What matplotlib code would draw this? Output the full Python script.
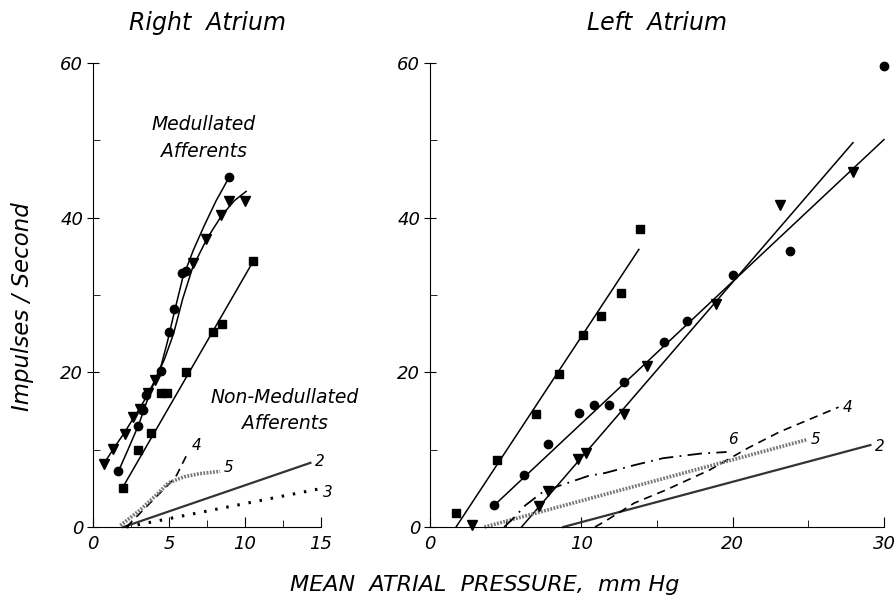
import matplotlib.pyplot as plt
from matplotlib.ticker import MultipleLocator

plt.rcParams['font.family'] = ['DejaVu Sans']
plt.rcParams['font.style'] = 'italic'

# ---- Right atrium: medullated afferents (points) ----
ra_circle_x = [1.67, 2.98, 3.27, 3.5, 4.5, 5.0, 5.35, 5.83, 6.1, 8.95]
ra_circle_y = [7.2, 13.1, 15.1, 17.1, 20.2, 25.2, 28.2, 32.9, 33.1, 45.2]
ra_tri_x = [0.72, 1.34, 2.1, 2.6, 3.1, 3.64, 4.08, 6.56, 7.4, 8.4, 8.95, 10.0]
ra_tri_y = [8.2, 10.1, 12.0, 14.2, 15.2, 17.3, 19.0, 34.2, 37.3, 40.3, 42.1, 42.2]
ra_sq_x = [1.95, 2.94, 3.82, 4.47, 4.9, 6.1, 7.9, 8.5, 10.55]
ra_sq_y = [5.1, 9.9, 12.1, 17.3, 17.3, 20.1, 25.2, 26.3, 34.4]

# hand drawn curves through them
ra_circle_curve_x = [1.67, 2.3, 3.0, 3.5, 4.0, 4.5, 4.9, 5.35, 5.9, 6.6, 7.3, 8.1, 8.95]
ra_circle_curve_y = [7.2, 10.0, 13.2, 16.0, 18.6, 21.0, 24.0, 27.8, 32.2, 35.8, 38.9, 42.2, 45.2]
ra_tri_curve_x = [0.72, 1.34, 2.1, 2.6, 3.1, 3.64, 4.08, 4.7, 5.3, 5.9, 6.56, 7.5, 8.47, 9.3, 10.07]
ra_tri_curve_y = [8.2, 10.1, 12.3, 13.9, 15.4, 17.3, 19.0, 21.7, 25.0, 29.5, 33.6, 37.3, 40.3, 42.2, 43.4]
ra_sq_line_x = [1.95, 10.55]
ra_sq_line_y = [5.1, 34.4]

# ---- Right atrium: non-medullated afferents (lines) ----
ra_n2_x = [2.0, 14.3]
ra_n2_y = [0.0, 8.3]
ra_n3_x = [2.2, 14.8]
ra_n3_y = [0.0, 4.9]
ra_n4_x = [2.2, 3.1, 3.75, 5.07, 5.5, 6.16]
ra_n4_y = [0.0, 1.8, 3.1, 5.7, 6.7, 9.3]
ra_n5_x = [1.8, 3.1, 4.3, 4.95, 6.0, 7.0, 8.36]
ra_n5_y = [0.2, 2.2, 4.4, 5.7, 6.5, 6.9, 7.2]

# ---- Left atrium: medullated afferents (points) ----
la_sq_x = [1.72, 4.4, 7.0, 8.5, 10.1, 11.3, 12.6, 13.9]
la_sq_y = [1.8, 8.7, 14.6, 19.8, 24.8, 27.3, 30.2, 38.5]
la_circle_x = [4.24, 6.22, 7.8, 9.83, 10.85, 11.83, 12.85, 15.45, 16.95, 20.0, 23.8, 30.0]
la_circle_y = [2.8, 6.7, 10.75, 14.8, 15.8, 15.8, 18.7, 23.9, 26.7, 32.6, 35.7, 59.6]
la_tri_x = [2.75, 7.2, 7.8, 9.75, 10.3, 12.85, 14.35, 18.9, 23.1, 27.95]
la_tri_y = [0.3, 2.7, 4.7, 8.8, 9.6, 14.6, 20.8, 28.8, 41.7, 45.9]

la_sq_line_x = [1.72, 13.8]
la_sq_line_y = [0.0, 35.9]
la_circle_line_x = [4.24, 30.0]
la_circle_line_y = [2.8, 50.1]
la_tri_line_x = [6.05, 27.95]
la_tri_line_y = [0.0, 49.7]

# ---- Left atrium: non-medullated afferents (lines) ----
la_n2_x = [8.8, 29.1]
la_n2_y = [0.0, 10.6]
la_n4_x = [10.9, 11.7, 13.5, 15.6, 18.5, 21.0, 23.1, 27.0]
la_n4_y = [0.0, 0.9, 3.1, 4.8, 7.4, 10.2, 12.3, 15.5]
la_n5_x = [3.6, 24.9]
la_n5_y = [0.0, 11.3]
la_n6_x = [4.9, 5.6, 6.3, 7.5, 8.5, 10.45, 11.6, 13.5, 15.4, 17.9, 19.6]
la_n6_y = [0.0, 1.3, 2.8, 4.6, 5.3, 6.6, 7.0, 8.0, 8.9, 9.5, 9.7]

fig = plt.figure(figsize=(8.96, 6.03), dpi=100)
ax1 = fig.add_axes([0.1038, 0.126, 0.2545, 0.7695])
ax2 = fig.add_axes([0.4799, 0.126, 0.5067, 0.7695])

mk = dict(color='black', linestyle='none', clip_on=False, zorder=3)
ln = dict(color='black', lw=1.1, clip_on=False)

s2 = dict(color='#333333', lw=1.6, clip_on=False)
s3 = dict(color='black', lw=2.2, linestyle=(0, (0.8, 2.9)), clip_on=False)
s4 = dict(color='black', lw=1.2, linestyle=(0, (5, 3.5)), clip_on=False)
s5 = dict(color='#777777', lw=2.6, linestyle=(0, (0.5, 0.4)), clip_on=False)
s6 = dict(color='black', lw=1.3, linestyle=(0, (8, 3.5, 1, 3.5)), clip_on=False)

# left panel
ax1.plot(ra_circle_curve_x, ra_circle_curve_y, **ln)
ax1.plot(ra_tri_curve_x, ra_tri_curve_y, **ln)
ax1.plot(ra_sq_line_x, ra_sq_line_y, **ln)
ax1.plot(ra_circle_x, ra_circle_y, marker='o', ms=6, **mk)
ax1.plot(ra_tri_x, ra_tri_y, marker='v', ms=7, **mk)
ax1.plot(ra_sq_x, ra_sq_y, marker='s', ms=6, **mk)
ax1.plot(ra_n2_x, ra_n2_y, **s2)
ax1.plot(ra_n3_x, ra_n3_y, **s3)
ax1.plot(ra_n4_x, ra_n4_y, **s4)
ax1.plot(ra_n5_x, ra_n5_y, **s5)

ax1.text(7.3, 52.1, 'Medullated', ha='center', va='center', fontsize=13.5)
ax1.text(7.3, 48.6, 'Afferents', ha='center', va='center', fontsize=13.5)
ax1.text(12.6, 16.8, 'Non-Medullated', ha='center', va='center', fontsize=13.5)
ax1.text(12.6, 13.4, 'Afferents', ha='center', va='center', fontsize=13.5)
ax1.text(6.84, 10.6, '4', ha='center', va='center', fontsize=11)
ax1.text(8.92, 7.65, '5', ha='center', va='center', fontsize=11)
ax1.text(14.93, 8.5, '2', ha='center', va='center', fontsize=11)
ax1.text(15.46, 4.5, '3', ha='center', va='center', fontsize=11)

# right panel
ax2.plot(la_sq_line_x, la_sq_line_y, **ln)
ax2.plot(la_circle_line_x, la_circle_line_y, **ln)
ax2.plot(la_tri_line_x, la_tri_line_y, **ln)
ax2.plot(la_circle_x, la_circle_y, marker='o', ms=6, **mk)
ax2.plot(la_tri_x, la_tri_y, marker='v', ms=7, **mk)
ax2.plot(la_sq_x, la_sq_y, marker='s', ms=6, **mk)
ax2.plot(la_n2_x, la_n2_y, **s2)
ax2.plot(la_n4_x, la_n4_y, **s4)
ax2.plot(la_n5_x, la_n5_y, **s5)
ax2.plot(la_n6_x, la_n6_y, **s6)

ax2.text(27.6, 15.5, '4', ha='center', va='center', fontsize=11)
ax2.text(25.5, 11.3, '5', ha='center', va='center', fontsize=11)
ax2.text(29.74, 10.4, '2', ha='center', va='center', fontsize=11)
ax2.text(20.0, 11.3, '6', ha='center', va='center', fontsize=11)

for ax, xmax, xmaj, xmin in [(ax1, 15, 5, 2.5), (ax2, 30, 10, 5)]:
    ax.set_xlim(0, xmax)
    ax.set_ylim(0, 60)
    ax.xaxis.set_major_locator(MultipleLocator(xmaj))
    ax.xaxis.set_minor_locator(MultipleLocator(xmin))
    ax.yaxis.set_major_locator(MultipleLocator(20))
    ax.yaxis.set_minor_locator(MultipleLocator(10))
    ax.spines['top'].set_visible(False)
    ax.spines['right'].set_visible(False)
    ax.tick_params(axis='x', which='major', direction='in', length=7, labelsize=13, pad=6)
    ax.tick_params(axis='x', which='minor', direction='in', length=5)
    ax.tick_params(axis='y', which='major', direction='inout', length=8, labelsize=13, pad=3)
    ax.tick_params(axis='y', which='minor', direction='in', length=5)

ax1.set_title('Right  Atrium', fontsize=17, pad=24)
ax2.set_title('Left  Atrium', fontsize=17, pad=24)

fig.text(0.5413, 1 - 585 / 603, 'MEAN  ATRIAL  PRESSURE,  mm Hg', ha='center', va='center', fontsize=16)
fig.text(22 / 896, 1 - 307 / 603, 'Impulses / Second', rotation=90, ha='center', va='center', fontsize=16.5)

fig.savefig('out.png', dpi=100)
